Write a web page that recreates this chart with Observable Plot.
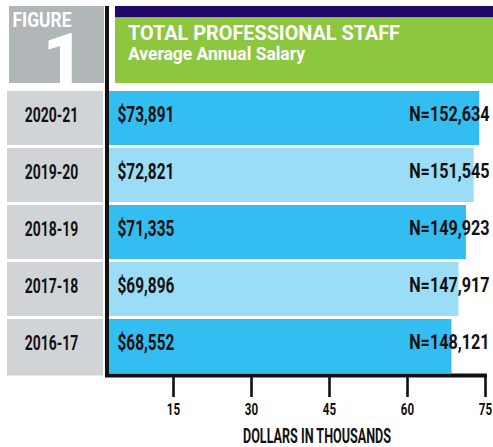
<!DOCTYPE html>
<html>
<head>
<meta charset="utf-8">
<script src="https://cdn.jsdelivr.net/npm/d3@7"></script>
<script src="https://cdn.jsdelivr.net/npm/@observablehq/plot@0.6"></script>
<style>
  html, body { margin: 0; padding: 0; background: #fff; }
  #chart { width: 493px; height: 447px; overflow: hidden; }
  #chart svg g[aria-label^="x-axis"] path,
  #chart svg g[aria-label^="x-axis"] line { stroke: #111; stroke-width: 2.6px; }
</style>
</head>
<body>
<div id="chart"></div>
<script>
// ---- data ----
const years = ["2020-21", "2019-20", "2018-19", "2017-18", "2016-17"];
const salaries = [73891, 72821, 71335, 69896, 68552];
const staffCounts = [152634, 151545, 149923, 147917, 148121];
const shades = ["dark", "light", "dark", "light", "dark"];
const xTicks = [15, 30, 45, 60, 75];
const figureLabel = "FIGURE";
const figureNumber = "1";
const title = "TOTAL PROFESSIONAL STAFF";
const subtitle = "Average Annual Salary";
const xLabel = "DOLLARS IN THOUSANDS";

const rows = years.map((year, i) => ({
  year, salary: salaries[i], n: staffCounts[i], shade: shades[i]
}));

const FONT = "Roboto, 'Liberation Sans', 'DejaVu Sans', sans-serif";
const fmt = d3.format(",");

const W = 493, H = 447;
const M = {top: 91, bottom: 73, left: 109, right: 0};

const chart = Plot.plot({
  width: W, height: H,
  marginTop: M.top, marginBottom: M.bottom, marginLeft: M.left, marginRight: M.right,
  style: {fontFamily: FONT, fontSize: "16.5px", fontWeight: 700, color: "#111", background: "transparent"},
  x: {domain: [0, 75], range: [95, 485], ticks: xTicks, tickSize: 23, tickPadding: 6, label: null, tickFormat: d => String(d)},
  y: {domain: years, paddingInner: 0.05, paddingOuter: 0, axis: null},
  color: {domain: ["dark", "light"], range: ["#33bdf0", "#9bdcf7"]},
  marks: [
    Plot.barX(rows, {y: "year", x: d => d.salary / 1000, fill: "shade", clip: true}),
    Plot.text(rows, {y: "year", frameAnchor: "left", dx: 8, dy: -4, textAnchor: "start",
      text: d => "$" + fmt(d.salary), fontSize: 22, fill: "#111"}),
    Plot.text(rows, {y: "year", frameAnchor: "right", dx: -4, dy: -4, textAnchor: "end",
      text: d => "N=" + fmt(d.n), fontSize: 21, fill: "#111"})
  ]
});

document.getElementById("chart").appendChild(chart);

const svg = d3.select(chart);
const yScale = chart.scale("y");
const bw = yScale.bandwidth;

function condense(sel, factor) {
  sel.each(function () {
    const w = this.getComputedTextLength();
    this.setAttribute("textLength", (w * factor).toFixed(1));
    this.setAttribute("lengthAdjust", "spacingAndGlyphs");
  });
}

// header: figure box
const header = svg.insert("g", ":first-child").attr("text-anchor", "start");
header.append("rect").attr("x", 9).attr("y", 6).attr("width", 95).attr("height", 77).attr("fill", "#b1b6b9");
header.append("text").attr("x", 12.5).attr("y", 27).attr("fill", "#fff").attr("text-anchor", "start")
  .style("font-size", "19.5px").style("font-weight", 700).text(figureLabel).attr("class", "hdr").attr("data-w", 59);
header.append("text").attr("x", 84).attr("y", 83).attr("text-anchor", "end").attr("fill", "#fff")
  .style("font-size", "71px").style("font-weight", 900).text(figureNumber);
// header: title band
header.append("rect").attr("x", 115).attr("y", 6).attr("width", W - 115).attr("height", 11.5).attr("fill", "#22086c");
header.append("rect").attr("x", 115).attr("y", 17.5).attr("width", W - 115).attr("height", 65.5).attr("fill", "#8dc63f");
header.append("text").attr("x", 128).attr("y", 40).attr("fill", "#fff").attr("text-anchor", "start")
  .style("font-size", "21px").style("font-weight", 700).text(title).attr("class", "hdr").attr("data-w", 272);
header.append("text").attr("x", 128).attr("y", 60).attr("fill", "#fff").attr("text-anchor", "start")
  .style("font-size", "17.5px").style("font-weight", 700).text(subtitle).attr("class", "hdr").attr("data-w", 177);

// row label boxes
const rowG = svg.append("g");
years.forEach((yr, i) => {
  const y0 = yScale.apply(yr);
  const last = i === years.length - 1;
  rowG.append("rect").attr("x", 7).attr("y", y0).attr("width", 96)
    .attr("height", last ? bw + 2.5 : bw).attr("fill", "#d1d4d7");
  rowG.append("text").attr("x", 51.5).attr("y", y0 + 30.7).attr("text-anchor", "middle")
    .attr("fill", "#111").style("font-size", "21px").style("font-weight", 700).text(yr)
    .attr("class", "rowlab");
});

// axis lines (vertical + horizontal)
const xs = chart.scale("x");
svg.append("path")
  .attr("d", `M${M.left - 2},6 V${H - M.bottom + 1.5} H${xs.apply(75) + 2}`)
  .attr("fill", "none").attr("stroke", "#111").attr("stroke-width", 4).attr("stroke-linejoin", "miter");

// x axis label
svg.append("text").attr("x", 317).attr("y", 443).attr("text-anchor", "middle")
  .attr("fill", "#111").style("font-size", "20px").style("font-weight", 700).text(xLabel)
  .attr("class", "xlab").attr("data-w", 148);

function finish() {
  const textGroups = svg.selectAll('g[aria-label="text"]').nodes();
  if (textGroups[0]) condense(d3.select(textGroups[0]).selectAll("text"), 0.7);
  if (textGroups[1]) condense(d3.select(textGroups[1]).selectAll("text"), 0.77);
  condense(svg.selectAll('g[aria-label^="x-axis"] text'), 0.7);
  condense(svg.selectAll("text.rowlab"), 0.665);
  svg.selectAll("text.hdr, text.xlab").each(function () {
    this.setAttribute("textLength", this.getAttribute("data-w"));
    this.setAttribute("lengthAdjust", "spacingAndGlyphs");
  });
}
if (document.fonts && document.fonts.ready) document.fonts.ready.then(finish); else finish();
</script>
</body>
</html>
